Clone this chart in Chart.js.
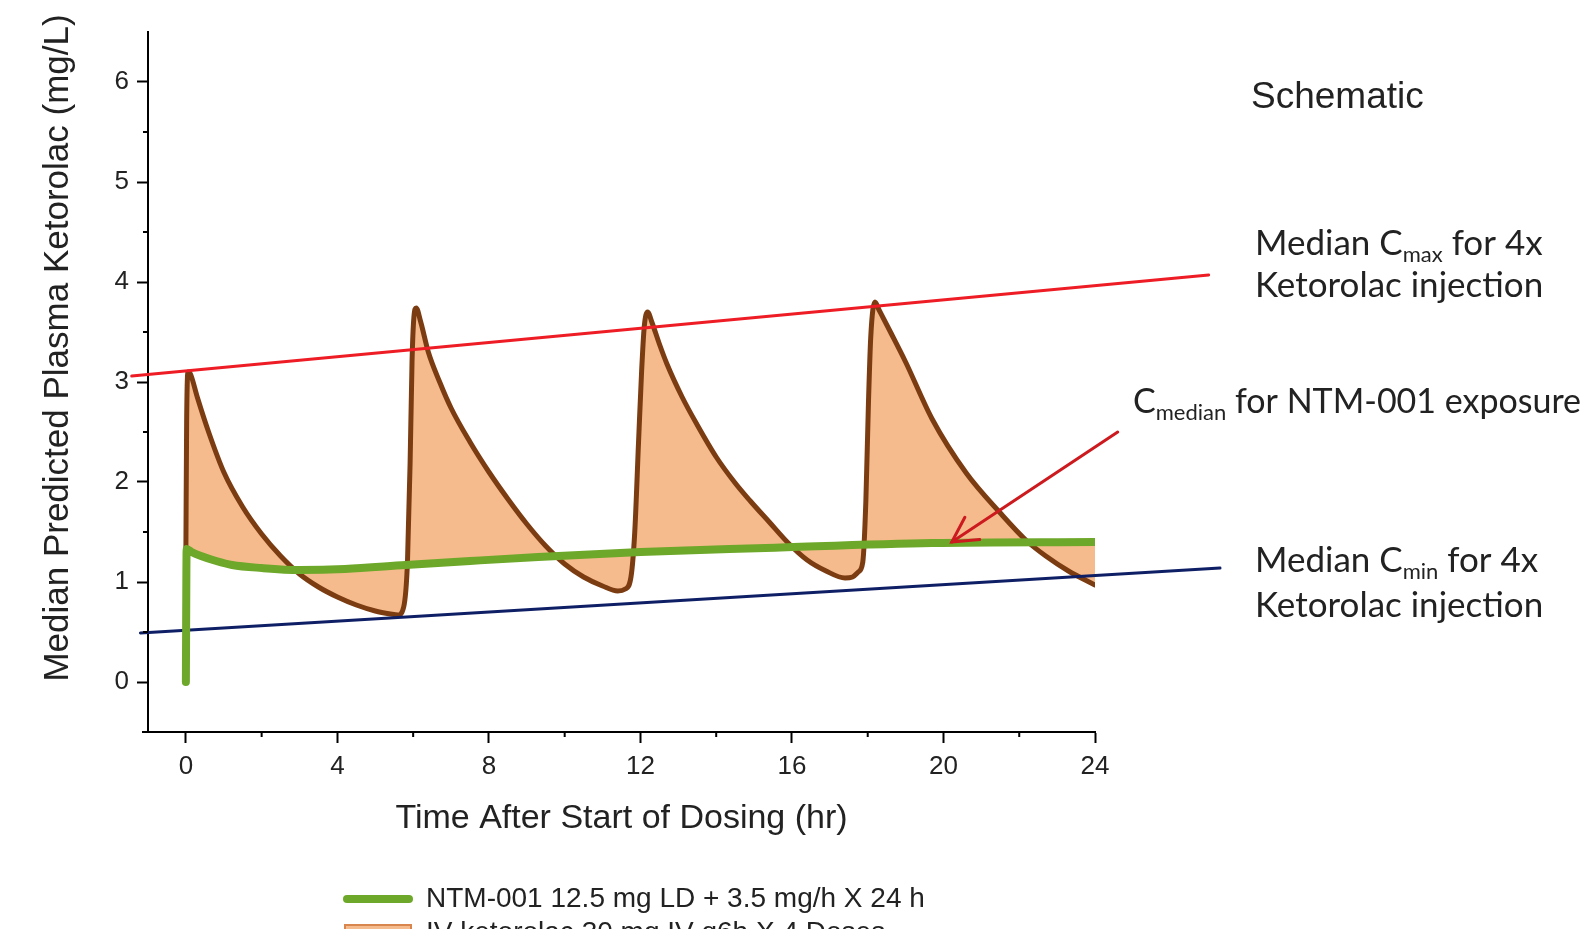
<!DOCTYPE html>
<html>
<head>
<meta charset="utf-8">
<title>Ketorolac schematic</title>
<script src="https://cdn.jsdelivr.net/npm/chart.js@4.4.1/dist/chart.umd.min.js"></script>
<style>
  html, body { margin: 0; padding: 0; background: #fff; }
  #wrap { width: 1591px; height: 929px; }
</style>
</head>
<body>
<div id="wrap"><canvas id="pkChart" width="1591" height="929"></canvas></div>
<script>
const brownT = [0, 0.02, 0.06, 0.12, 0.3, 0.6, 1.0, 1.5, 2.0, 2.5, 3.0, 3.5, 4.0, 4.5, 5.0, 5.4, 5.6,
  5.75, 5.85, 5.92, 5.97, 6.02, 6.08, 6.2, 6.4, 6.7, 7.0, 7.5, 8.0, 8.5, 9.0, 9.5, 10.0, 10.5, 11.0, 11.4, 11.6,
  11.75, 11.85, 11.95, 12.03, 12.1, 12.19, 12.3, 12.5, 12.7, 13.1, 13.5, 14.0, 14.5, 14.9, 15.4, 15.9, 16.4, 16.9, 17.4, 17.6, 17.75,
  17.87, 17.95, 18.02, 18.08, 18.19, 18.3, 18.6, 19.0, 19.7, 20.6, 21.5, 22.2, 22.7, 23.3, 24];
const brownC = [1.3, 2.6, 3.1, 3.08, 2.85, 2.5, 2.1, 1.75, 1.48, 1.26, 1.08, 0.95, 0.85, 0.77, 0.71, 0.68, 0.67,
  0.75, 1.2, 2.2, 3.2, 3.65, 3.74, 3.6, 3.3, 3.0, 2.74, 2.4, 2.1, 1.83, 1.58, 1.36, 1.18, 1.05, 0.96, 0.91, 0.93,
  1.05, 1.5, 2.4, 3.1, 3.55, 3.70, 3.6, 3.38, 3.18, 2.85, 2.57, 2.25, 1.99, 1.81, 1.6, 1.39, 1.22, 1.11, 1.04, 1.05, 1.1,
  1.2, 1.8, 2.8, 3.45, 3.80, 3.72, 3.5, 3.2, 2.63, 2.09, 1.69, 1.41, 1.26, 1.11, 0.97];

const greenT = [0, 0.02, 0.15, 0.4, 0.8, 1.22, 2.0, 3.0, 4.2, 5.8, 7.5, 9.3, 12, 15.3, 19.7, 24];
const greenC = [0, 1.33, 1.30, 1.26, 1.21, 1.17, 1.14, 1.12, 1.13, 1.17, 1.21, 1.25, 1.30, 1.34, 1.39, 1.40];

const cmaxT = [-1.43, 27.0];
const cmaxC = [3.06, 4.07];
const cminT = [-1.2, 27.3];
const cminC = [0.49, 1.14];
const arrowT = [24.6, 20.22];
const arrowC = [2.5, 1.40];

const xTicks = [0, 4, 8, 12, 16, 20, 24];
const yTicks = [0, 1, 2, 3, 4, 5, 6];
const xMinor = [2, 6, 10, 14, 18, 22];
const yMinor = [0.5, 1.5, 2.5, 3.5, 4.5, 5.5];

const greenLabel = 'NTM-001 12.5 mg LD + 3.5 mg/h X 24 h';
const brownLabel = 'IV ketorolac 30 mg IV q6h X 4 Doses';

const GREEN = '#6ea82a';
const BROWN = '#7b3c12';
const PEACH = '#f6bb8d';
const RED = '#ee1c25';
const NAVY = '#0f1f66';
const ARROW_RED = '#cc1a1f';
const INK = '#222';
const ARIAL = 'Arial, "Liberation Sans", sans-serif';
const CALIBRI = 'Lato, "Open Sans", sans-serif';

function toXY(xs, ys) {
    return xs.map((x, i) => ({ x: x, y: ys[i] }));
}

// minor ticks, shorter than the labelled ones
const minorTicks = {
    id: 'minorTicks',
    afterDraw(chart) {
        const { ctx, chartArea, scales } = chart;
        ctx.save();
        ctx.strokeStyle = '#000';
        ctx.lineWidth = 2;
        ctx.beginPath();
        yMinor.forEach(v => {
            const py = scales.y.getPixelForValue(v);
            ctx.moveTo(chartArea.left - 5, py);
            ctx.lineTo(chartArea.left, py);
        });
        xMinor.forEach(v => {
            const px = scales.x.getPixelForValue(v);
            ctx.moveTo(px, chartArea.bottom);
            ctx.lineTo(px, chartArea.bottom + 5);
        });
        // axis line runs a little past the y axis, like the original
        ctx.moveTo(chartArea.left - 6, chartArea.bottom);
        ctx.lineTo(chartArea.left, chartArea.bottom);
        ctx.stroke();
        ctx.restore();
    }
};

// open V head at the end of the arrow dataset
const arrowHead = {
    id: 'arrowHead',
    afterDatasetsDraw(chart) {
        const pts = chart.getDatasetMeta(0).data;
        if (pts.length < 2) return;
        const a = pts[pts.length - 2], b = pts[pts.length - 1];
        const ang = Math.atan2(a.y - b.y, a.x - b.x);
        const len = 28, spread = 0.5;
        const ctx = chart.ctx;
        ctx.save();
        ctx.strokeStyle = ARROW_RED;
        ctx.lineWidth = 3;
        ctx.lineCap = 'round';
        ctx.beginPath();
        ctx.moveTo(b.x + len * Math.cos(ang + spread), b.y + len * Math.sin(ang + spread));
        ctx.lineTo(b.x, b.y);
        ctx.lineTo(b.x + len * Math.cos(ang - spread), b.y + len * Math.sin(ang - spread));
        ctx.stroke();
        ctx.restore();
    }
};

// text with "_" prefixed parts drawn as subscripts
function drawRich(ctx, x, y, parts, size, subSize, family) {
    let cx = x;
    parts.forEach(p => {
        const isSub = p.startsWith('_');
        const txt = isSub ? p.slice(1) : p;
        ctx.font = (isSub ? subSize : size) + 'px ' + family;
        ctx.fillText(txt, cx, isSub ? y + size * 0.2 : y);
        cx += ctx.measureText(txt).width;
    });
}

const textLayer = {
    id: 'textLayer',
    afterDraw(chart) {
        const ctx = chart.ctx;
        ctx.save();
        ctx.fillStyle = INK;
        ctx.textBaseline = 'alphabetic';
        ctx.textAlign = 'left';

        ctx.font = '37px ' + ARIAL;
        ctx.fillText('Schematic', 1251, 108);

        drawRich(ctx, 1255, 255, ['Median C', '_max', ' for 4x'], 35, 22, CALIBRI);
        drawRich(ctx, 1255, 297, ['Ketorolac injection'], 35, 22, CALIBRI);
        drawRich(ctx, 1133, 413, ['C', '_median', ' for NTM-001 exposure'], 34, 22, CALIBRI);
        drawRich(ctx, 1255, 572, ['Median C', '_min', ' for 4x'], 35, 22, CALIBRI);
        drawRich(ctx, 1255, 617, ['Ketorolac injection'], 35, 22, CALIBRI);

        // y axis title
        ctx.save();
        ctx.translate(58, 348);
        ctx.rotate(-Math.PI / 2);
        ctx.textAlign = 'center';
        ctx.textBaseline = 'middle';
        ctx.font = '35px ' + ARIAL;
        ctx.fillText('Median Predicted Plasma Ketorolac (mg/L)', 0, 0);
        ctx.restore();

        // legend (second row runs off the bottom, as in the original)
        const ds = chart.data.datasets;
        ctx.textBaseline = 'middle';
        ctx.font = '28px ' + ARIAL;
        ctx.strokeStyle = GREEN;
        ctx.lineWidth = 8;
        ctx.lineCap = 'round';
        ctx.beginPath();
        ctx.moveTo(347, 899);
        ctx.lineTo(409, 899);
        ctx.stroke();
        ctx.fillText(ds[1].label, 426, 899);

        ctx.fillStyle = PEACH;
        ctx.fillRect(345, 925, 66, 16);
        ctx.strokeStyle = '#d9864e';
        ctx.lineWidth = 2;
        ctx.strokeRect(345, 925, 66, 16);
        ctx.fillStyle = INK;
        ctx.fillText(ds[4].label, 426, 933);
        ctx.restore();
    }
};

const axisFont = { family: ARIAL, size: 26 };

new Chart(document.getElementById('pkChart'), {
    type: 'line',
    data: {
        datasets: [
            { label: 'arrow', data: toXY(arrowT, arrowC), borderColor: ARROW_RED, borderWidth: 3, order: 0, clip: false },
            { label: greenLabel, data: toXY(greenT, greenC), borderColor: GREEN, borderWidth: 8, order: 1,
              cubicInterpolationMode: 'monotone' },
            { label: 'Cmax', data: toXY(cmaxT, cmaxC), borderColor: RED, borderWidth: 3, order: 2, clip: false },
            { label: 'Cmin', data: toXY(cminT, cminC), borderColor: NAVY, borderWidth: 3, order: 2, clip: false },
            { label: brownLabel, data: toXY(brownT, brownC), borderColor: BROWN, borderWidth: 5, order: 3,
              backgroundColor: PEACH, fill: { target: 1 }, cubicInterpolationMode: 'monotone' }
        ]
    },
    options: {
        responsive: false,
        animation: false,
        events: [],
        elements: {
            point: { radius: 0 },
            line: { borderJoinStyle: 'round', borderCapStyle: 'round', fill: false }
        },
        layout: { padding: { top: 32, right: 496, left: 0, bottom: 90 } },
        scales: {
            x: {
                type: 'linear', min: -1, max: 24,
                afterBuildTicks: s => { s.ticks = xTicks.map(v => ({ value: v })); },
                afterFit: s => { s.height = 107; },
                grid: { drawOnChartArea: false, tickLength: 11, tickWidth: 2, tickColor: '#000' },
                border: { color: '#000', width: 2 },
                ticks: { font: axisFont, color: INK, padding: 8, maxRotation: 0 },
                title: { display: true, text: 'Time After Start of Dosing (hr)', color: INK,
                         font: { family: ARIAL, size: 34 }, padding: { top: 10, bottom: 0 } }
            },
            y: {
                type: 'linear', min: -0.5, max: 6.5,
                afterBuildTicks: s => { s.ticks = yTicks.map(v => ({ value: v })); },
                afterFit: s => { s.width = 148; },
                grid: { drawOnChartArea: false, tickLength: 11, tickWidth: 2, tickColor: '#000' },
                border: { color: '#000', width: 2 },
                ticks: { font: axisFont, color: INK, padding: 8 }
            }
        },
        plugins: {
            legend: { display: false },
            tooltip: { enabled: false },
            filler: { drawTime: 'beforeDatasetsDraw' }
        }
    },
    plugins: [minorTicks, arrowHead, textLayer]
});
</script>
</body>
</html>
